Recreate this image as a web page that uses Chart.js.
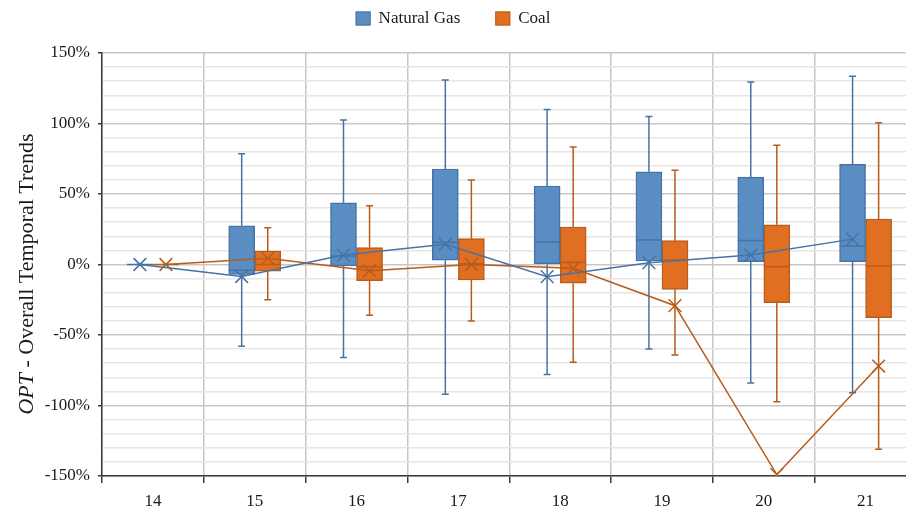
<!DOCTYPE html>
<html lang="en">
<head>
  <meta charset="UTF-8">
  <title>OPT - Overall Temporal Trends</title>
  <script src="https://cdn.jsdelivr.net/npm/chart.js"></script>
  <style>
    * { margin: 0; padding: 0; box-sizing: border-box; }
    body { background: #fff; overflow: hidden; }
    .chart-box { position: relative; width: 927px; height: 509px; }
  </style>
</head>
<body>
  <div class="chart-box">
    <canvas id="trendChart"></canvas>
  </div>

<script>
  // categories + series
  const CATS = [14, 15, 16, 17, 18, 19, 20, 21];
  const SERIES = ['Natural Gas', 'Coal'];

  // box stats (percent)
  const GAS_MIN  = [0, -58, -66, -92, -78, -60, -84, -91];
  const GAS_Q1   = [0, -7, -1, 3, 0, 2.5, 2, 2];
  const GAS_MED  = [0, -4, 6, 15.7, 16, 17.4, 17, 13];
  const GAS_Q3   = [0, 27.5, 43.8, 67.7, 55.7, 65.8, 62, 71];
  const GAS_MAX  = [0, 78.5, 102.5, 130.8, 110, 105, 129.4, 133.5];
  const GAS_MEAN = [0, -8.5, 6.7, 14.3, -8.6, 1.3, 6.7, 18];

  const COAL_MIN  = [0, -25, -36, -40, -69.4, -64.2, -97.3, -131];
  const COAL_Q1   = [0, -4.8, -11.5, -11, -13.3, -17.6, -27, -37.7];
  const COAL_MED  = [0, 0, -1.5, 0.5, 1.5, 3.2, -1.5, -1];
  const COAL_Q3   = [0, 9.6, 12, 18.3, 26.6, 16.9, 28.2, 32.3];
  const COAL_MAX  = [0, 26, 41.7, 60, 83.3, 66.8, 84.5, 100.6];
  const COAL_MEAN = [0, 4.4, -4.4, 0, -2.7, -29.2, -149, -72];

  const Y_MIN = -150, Y_MAX = 150, Y_STEP = 10, Y_LABEL_STEP = 50;

  const FONT = "'Liberation Serif', 'Times New Roman', serif";
  const GAS_FILL = '#5a8ec3', GAS_LINE = '#4673a6';
  const COAL_FILL = '#e06f22', COAL_LINE = '#b95c1b';
  const MAJOR_GRID = '#c9c5c5', MINOR_GRID = '#e8e5e5', AXIS = '#3a3a3a';
  const SIDE = 0.128;   // box centre offset from category centre, in category units
  const BOX_PX = 26;

  // whiskers behind the boxes, medians on top of them
  const boxPlugin = {
    id: 'boxWhiskers',
    beforeDatasetsDraw(chart) {
      const ctx = chart.ctx;
      const y = chart.scales.y;
      chart.data.datasets.forEach((ds, di) => {
        if (!ds.stats) return;
        const meta = chart.getDatasetMeta(di);
        ctx.save();
        ctx.strokeStyle = ds.borderColor;
        ctx.lineWidth = 1.5;
        meta.data.forEach((el, i) => {
          const yMin = y.getPixelForValue(ds.stats.min[i]);
          const yMax = y.getPixelForValue(ds.stats.max[i]);
          const yQ1 = y.getPixelForValue(ds.stats.q1[i]);
          const yQ3 = y.getPixelForValue(ds.stats.q3[i]);
          ctx.beginPath();
          ctx.moveTo(el.x, yMax); ctx.lineTo(el.x, yQ3);
          ctx.moveTo(el.x, yQ1); ctx.lineTo(el.x, yMin);
          ctx.moveTo(el.x - 3.5, yMax); ctx.lineTo(el.x + 3.5, yMax);
          ctx.moveTo(el.x - 3.5, yMin); ctx.lineTo(el.x + 3.5, yMin);
          ctx.stroke();
        });
        ctx.restore();
      });
    },
    afterDatasetDraw(chart, args) {
      const ds = chart.data.datasets[args.index];
      if (!ds.stats) return;
      const ctx = chart.ctx;
      const y = chart.scales.y;
      ctx.save();
      ctx.strokeStyle = ds.borderColor;
      ctx.lineWidth = 1.5;
      args.meta.data.forEach((el, i) => {
        const ym = y.getPixelForValue(ds.stats.med[i]);
        ctx.beginPath();
        ctx.moveTo(el.x - el.width / 2, ym);
        ctx.lineTo(el.x + el.width / 2, ym);
        ctx.stroke();
      });
      ctx.restore();
    }
  };

  // legend + y title (OPT in italics)
  const textPlugin = {
    id: 'textBits',
    afterDraw(chart) {
      const ctx = chart.ctx;
      ctx.save();
      ctx.fillStyle = '#1a1a1a';
      ctx.textBaseline = 'middle';
      ctx.font = '17px ' + FONT;
      const boxes = chart.data.datasets.filter(d => d.stats);
      const widths = boxes.map(d => ctx.measureText(d.label).width);
      let total = 0;
      widths.forEach((w, i) => { total += 15 + 8 + w + (i < widths.length - 1 ? 35 : 0); });
      let x = 453 - total / 2;
      boxes.forEach((d, i) => {
        ctx.fillStyle = d.backgroundColor;
        ctx.fillRect(x, 11.5, 15, 14);
        ctx.strokeStyle = d.borderColor;
        ctx.lineWidth = 1;
        ctx.strokeRect(x + 0.5, 12, 14, 13);
        ctx.fillStyle = '#1a1a1a';
        ctx.fillText(d.label, x + 23, 19);
        x += 15 + 8 + widths[i] + 35;
      });

      ctx.translate(33, 274);
      ctx.rotate(-Math.PI / 2);
      ctx.textBaseline = 'alphabetic';
      const italic = 'italic 22px ' + FONT, plain = '22px ' + FONT;
      const rest = ' - Overall Temporal Trends';
      ctx.font = italic;
      const w1 = ctx.measureText('OPT').width;
      ctx.font = plain;
      const w2 = ctx.measureText(rest).width;
      const start = -(w1 + w2) / 2;
      ctx.font = italic;
      ctx.fillText('OPT', start, 0);
      ctx.font = plain;
      ctx.fillText(rest, start + w1, 0);
      ctx.restore();
    }
  };

  const boxSet = (label, fill, line, s, shift) => ({
    type: 'bar',
    label: label,
    xAxisID: 'xl',
    data: s.q1.map((v, i) => ({ x: CATS[i] + shift, y: [v, s.q3[i]] })),
    backgroundColor: fill,
    borderColor: line,
    borderWidth: 1.5,
    borderSkipped: false,
    barThickness: BOX_PX,
    grouped: false,
    stats: s,
    order: 2
  });

  const meanSet = (label, line, means, shift) => ({
    type: 'line',
    label: label + ' mean',
    xAxisID: 'xl',
    data: means.map((v, i) => ({ x: CATS[i] + shift, y: v })),
    borderColor: line,
    backgroundColor: line,
    borderWidth: 1.5,
    pointStyle: 'crossRot',
    pointRadius: 9,
    pointBorderWidth: 1.5,
    tension: 0,
    order: 1
  });

  const ctx = document.getElementById('trendChart').getContext('2d');
  new Chart(ctx, {
    type: 'bar',
    data: {
      labels: CATS.map(String),
      datasets: [
        meanSet(SERIES[0], GAS_LINE, GAS_MEAN, -SIDE),
        meanSet(SERIES[1], COAL_LINE, COAL_MEAN, SIDE),
        boxSet(SERIES[0], GAS_FILL, GAS_LINE,
          { min: GAS_MIN, q1: GAS_Q1, med: GAS_MED, q3: GAS_Q3, max: GAS_MAX }, -SIDE),
        boxSet(SERIES[1], COAL_FILL, COAL_LINE,
          { min: COAL_MIN, q1: COAL_Q1, med: COAL_MED, q3: COAL_Q3, max: COAL_MAX }, SIDE)
      ]
    },
    options: {
      responsive: true,
      maintainAspectRatio: false,
      animation: false,
      layout: { padding: { top: 53, right: 2, left: 0, bottom: 0 } },
      plugins: {
        legend: { display: false },
        tooltip: { enabled: false }
      },
      scales: {
        x: {
          type: 'category',
          offset: true,
          grid: { offset: true, color: MAJOR_GRID, lineWidth: 1.5, tickLength: 7, tickColor: AXIS },
          border: { color: AXIS, width: 1.5 },
          ticks: { font: { family: FONT, size: 17 }, color: '#1a1a1a', padding: 8 },
          afterFit(s) { s.height = 33; }
        },
        xl: {
          type: 'linear',
          display: false,
          offset: false,
          min: CATS[0] - 0.5,
          max: CATS[CATS.length - 1] + 0.5
        },
        y: {
          min: Y_MIN,
          max: Y_MAX,
          ticks: {
            stepSize: Y_STEP,
            autoSkip: false,
            padding: 8,
            font: { family: FONT, size: 17 },
            color: '#1a1a1a',
            callback: v => v % Y_LABEL_STEP === 0 ? v + '%' : ''
          },
          grid: {
            color: c => c.tick.value % Y_LABEL_STEP === 0 ? MAJOR_GRID : MINOR_GRID,
            lineWidth: 1.5,
            tickLength: 4,
            tickColor: c => c.tick.value % Y_LABEL_STEP === 0 ? AXIS : 'rgba(0,0,0,0)'
          },
          border: { color: AXIS, width: 1.5 },
          afterFit(s) { s.width = 102; }
        }
      }
    },
    plugins: [boxPlugin, textPlugin]
  });
</script>
</body>
</html>
